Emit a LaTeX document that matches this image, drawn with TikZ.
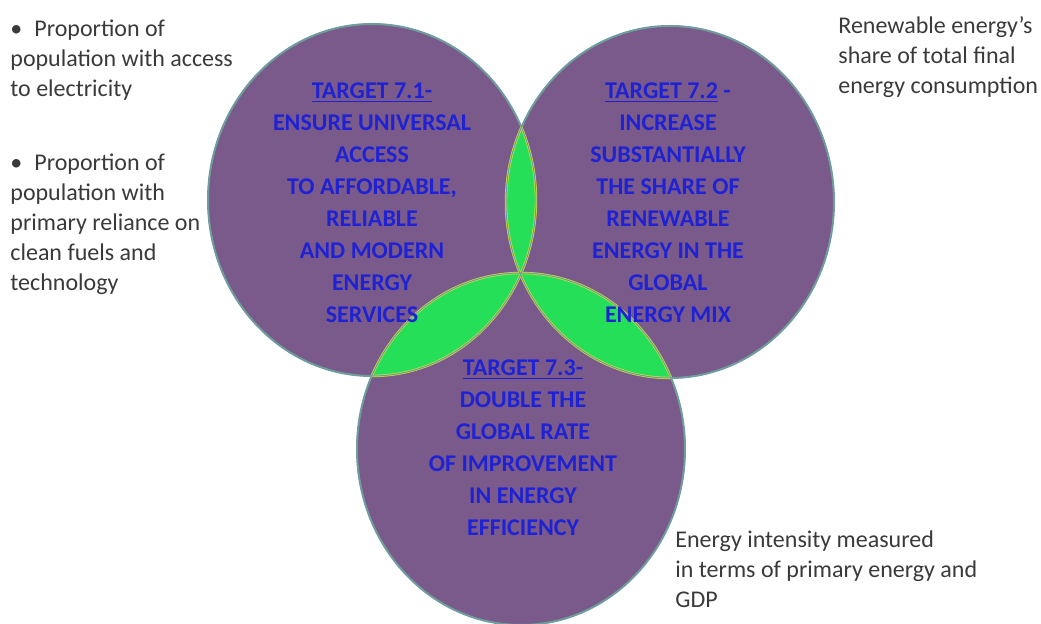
\documentclass[tikz,border=0pt]{standalone}
\usepackage{fontspec}
\setmainfont{Carlito}
\usetikzlibrary{positioning}
\definecolor{plum}{HTML}{7A5A8A}
\definecolor{rim}{HTML}{6F9C9C}
\definecolor{leaf}{HTML}{26DF58}
\definecolor{lime}{HTML}{CFDD3A}
\definecolor{ink}{HTML}{1E22D4}
\definecolor{slate}{HTML}{3A3A3A}
\tikzset{
  venn/.style={fill=plum,draw=rim,line width=1pt},
  lens/.style={fill=leaf},
  lensedge/.style={draw=lime,line width=1.2pt},
  target/.style={text=ink,font=\bfseries\fontsize{12}{16}\selectfont,
                 align=center,inner sep=0pt},
  note/.style={text=slate,font=\fontsize{12}{15}\selectfont,
               align=left,anchor=north west,inner sep=0pt}
}

\begin{document}
\begin{tikzpicture}[x=0.5pt,y=-0.5pt]
\useasboundingbox (0,0) rectangle (1041,624);
\coordinate (L) at (372,200);
\coordinate (R) at (670,202);
\coordinate (B) at (521,449);
% the three target rings
\foreach \c in {L,R,B}
  \path[venn] (\c) ellipse [x radius=82pt,y radius=88pt];
% overlaps
\foreach \a/\b in {L/R,L/B,R/B}{
  \begin{scope}
    \clip (\a) ellipse [x radius=82pt,y radius=88pt];
    \fill[lens] (\b) ellipse [x radius=82pt,y radius=88pt];
    \draw[lensedge] (\b) ellipse [x radius=82pt,y radius=88pt];
  \end{scope}
  \begin{scope}
    \clip (\b) ellipse [x radius=82pt,y radius=88pt];
    \draw[lensedge] (\a) ellipse [x radius=82pt,y radius=88pt];
  \end{scope}
}
\foreach \c in {L,R,B}
  \draw[rim,line width=0.5pt] (\c) ellipse [x radius=82pt,y radius=88pt];

\node[target] (t71) at (372,203) {\underline{TARGET 7.1-}\\ENSURE UNIVERSAL\\ACCESS\\
  TO AFFORDABLE,\\RELIABLE\\AND MODERN\\ENERGY\\SERVICES};
\node[target] (t72) at (668,203) {\underline{TARGET 7.2} -\\INCREASE\\SUBSTANTIALLY\\
  THE SHARE OF\\RENEWABLE\\ENERGY IN THE\\GLOBAL\\ENERGY MIX};
\node[target] (t73) at (523,448) {\underline{TARGET 7.3-}\\DOUBLE THE\\GLOBAL RATE\\
  OF IMPROVEMENT\\IN ENERGY\\EFFICIENCY};

\node[note] (acc) at (10,20) {\textbullet\enspace Proportion of\\population with access\\to electricity};
\node[note] (fuel) at (10,154) {\textbullet\enspace Proportion of\\population with\\
  primary reliance on\\clean fuels and\\technology};
\node[note] (ren) at (838,16) {Renewable energy’s\\share of total final\\energy consumption};
\node[note] (eff) at (675,530) {Energy intensity measured\\in terms of primary energy and\\GDP};
\end{tikzpicture}
\end{document}
